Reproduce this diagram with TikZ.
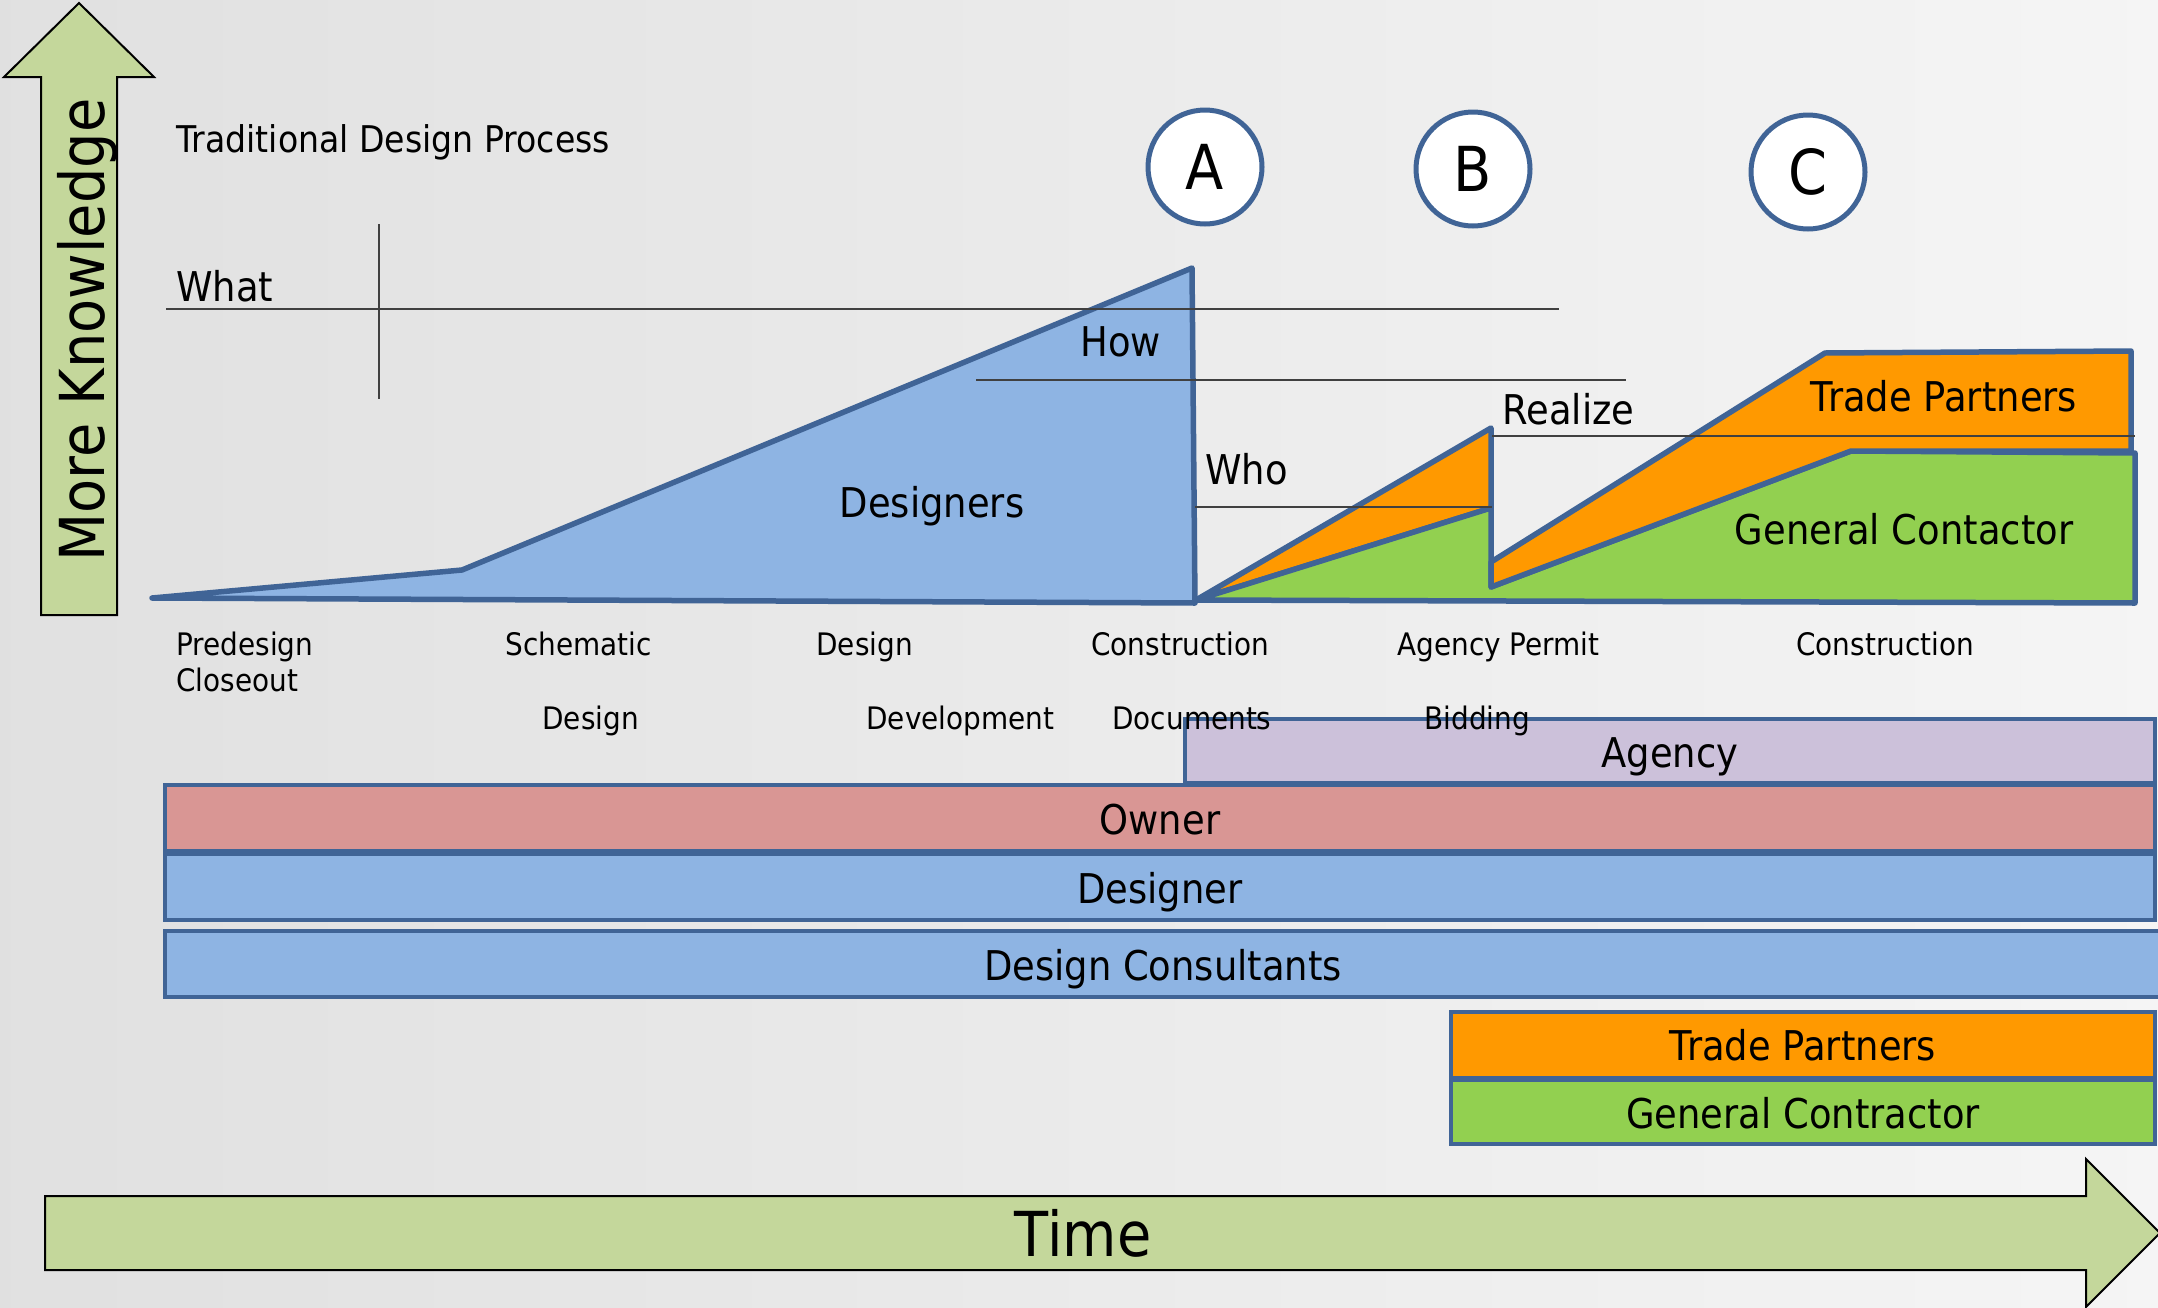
\documentclass[tikz,border=0pt]{standalone}
\usepackage{fontspec}
\setmainfont[FakeStretch=0.9]{DejaVu Sans}
\definecolor{edgeblue}{RGB}{64,100,150}
\definecolor{designblue}{RGB}{142,180,227}
\definecolor{tradeorange}{RGB}{255,153,0}
\definecolor{gcgreen}{RGB}{146,208,80}
\definecolor{ownerpink}{RGB}{217,150,148}
\definecolor{agencylilac}{RGB}{204,193,218}
\definecolor{arrowgreen}{RGB}{196,215,155}
\tikzset{
  wedge/.style={draw=edgeblue, line width=2.75pt, line join=round},
  bar/.style={draw=edgeblue, line width=2.25pt},
  guide/.style={draw=black!75, line width=0.9pt},
  bigarrow/.style={draw=black, line width=1pt, fill=arrowgreen},
  mid/.style={font=\fontsize{20.5}{24}\selectfont, inner sep=0pt},
  barlabel/.style={mid, text height=15pt, text depth=0pt},
  phase/.style={font=\fontsize{15.5}{18}\selectfont, inner sep=0pt, anchor=base west},
  huge/.style={font=\fontsize{31}{36}\selectfont, inner sep=0pt, text height=22.6pt, text depth=0pt},
  milestone/.style={huge, circle, draw=edgeblue, line width=2.5pt, fill=white, minimum size=57pt}
}
\begin{document}
\begin{tikzpicture}[x=0.5pt,y=-0.5pt]
  \useasboundingbox (0,0) rectangle (2158,1307);
  \shade[left color=black!12, right color=black!4] (0,0) rectangle (2158,1307);

  \draw[bigarrow] (41,615) -- (41,77) -- (4,77) -- (79,3) -- (154,77) -- (117,77) -- (117,615) -- cycle;
  \node[huge, rotate=90] (K) at (82,330) {More Knowledge};
  \draw[bigarrow] (45,1196) -- (2086,1196) -- (2086,1159) -- (2160,1233) -- (2086,1307) -- (2086,1270) -- (45,1270) -- cycle;
  \node[huge] (Time) at (1083,1234) {Time};

  \node[font=\fontsize{18.4}{22}\selectfont, inner sep=0pt, anchor=base west] (T) at (176,152) {Traditional Design Process};

  \draw[wedge, fill=designblue] (152,598) -- (462,570) -- (1192,268) -- (1195,603) -- cycle;
  \draw[wedge, fill=tradeorange] (1196,600) -- (1491,428) -- (1491,508) -- cycle;
  \draw[wedge, fill=gcgreen] (1196,600) -- (1491,508) -- (1491,587) -- (1851,451) -- (2135,453) -- (2135,603) -- cycle;
  \draw[wedge, fill=tradeorange] (1491,562) -- (1825,353) -- (2131,351) -- (2131,451) -- (1851,451) -- (1491,587) -- cycle;

  \draw[guide] (166,309) -- (1559,309);
  \draw[guide] (379,224) -- (379,399);
  \draw[guide] (976,380) -- (1626,380);
  \draw[guide] (1195,507) -- (1492,507);
  \draw[guide] (1492,436) -- (2135,436);

  \node[mid, anchor=base west] (What) at (176,301) {What};
  \node[mid, anchor=base west] (How) at (1080,356) {How};
  \node[mid, anchor=base west] (Who) at (1205,484) {Who};
  \node[mid, anchor=base west] (Realize) at (1502,424) {Realize};
  \node[mid, anchor=base] (Dsg) at (932,517) {Designers};
  \node[mid, anchor=base] (TP1) at (1944,411) {Trade Partners};
  \node[mid, anchor=base] (GC1) at (1904,544) {General Contactor};

  \node[milestone] (A) at (1205,167) {A};
  \node[milestone] (B) at (1473,169) {B};
  \node[milestone] (C) at (1808,172) {C};

  \draw[bar, fill=agencylilac] (1185,719) rectangle (2155,783);
  \draw[bar, fill=ownerpink] (165,785) rectangle (2155,851);
  \draw[bar, fill=designblue] (165,854) rectangle (2155,920);
  \draw[bar, fill=designblue] (165,931) rectangle (2162,997);
  \draw[bar, fill=tradeorange] (1451,1012) rectangle (2155,1078);
  \draw[bar, fill=gcgreen] (1451,1080) rectangle (2155,1144);
  \node[barlabel] (Agency) at (1670,752) {Agency};
  \node[barlabel] (Owner) at (1160,819) {Owner};
  \node[barlabel] (Designer) at (1160,888) {Designer};
  \node[barlabel] (DC) at (1163,965) {Design Consultants};
  \node[barlabel] (TP2) at (1803,1045) {Trade Partners};
  \node[barlabel] (GC2) at (1803,1113) {General Contractor};

  \node[phase] (P1) at (176,655) {Predesign};
  \node[phase] (P1b) at (176,691) {Closeout};
  \node[phase] (P2) at (505,655) {Schematic};
  \node[phase] (P2b) at (542,729) {Design};
  \node[phase] (P3) at (816,655) {Design};
  \node[phase] (P3b) at (866,729) {Development};
  \node[phase] (P4) at (1091,655) {Construction};
  \node[phase] (P4b) at (1112,729) {Documents};
  \node[phase] (P5) at (1397,655) {Agency Permit};
  \node[phase] (P5b) at (1424,729) {Bidding};
  \node[phase] (P6) at (1796,655) {Construction};
\end{tikzpicture}
\end{document}
